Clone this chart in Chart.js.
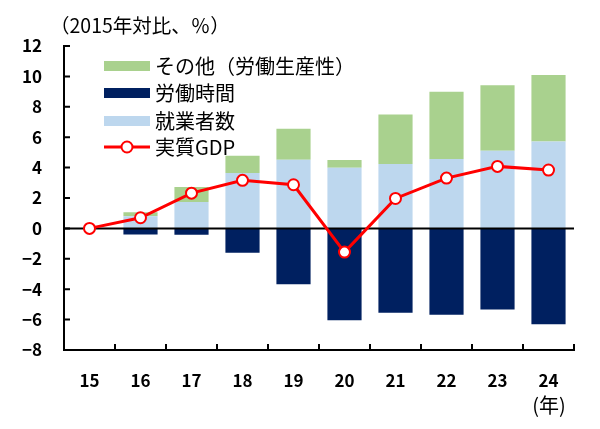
<!DOCTYPE html>
<html lang="ja">
<head>
<meta charset="utf-8">
<script src="https://cdn.jsdelivr.net/npm/chart.js@4"></script>
<style>
  html, body { margin: 0; padding: 0; background: #fff; }
  #wrap { width: 600px; height: 429px; position: relative; }
</style>
</head>
<body>
<div id="wrap"><canvas id="chart"></canvas></div>
<script>
// data (2015年対比、%)
const years = ['15', '16', '17', '18', '19', '20', '21', '22', '23', '24'];
const employed = [0, 0.80, 1.73, 3.64, 4.52, 3.99, 4.23, 4.56, 5.11, 5.72];
const other = [0, 0.27, 0.99, 1.14, 2.04, 0.51, 3.27, 4.43, 4.30, 4.37];
const hours = [0, -0.40, -0.42, -1.60, -3.68, -6.05, -5.55, -5.68, -5.33, -6.30];
const gdp = [0, 0.70, 2.32, 3.16, 2.87, -1.56, 1.97, 3.31, 4.08, 3.84];
const yTicks = [-8, -6, -4, -2, 0, 2, 4, 6, 8, 10, 12];

const FONT = "'Noto Sans CJK JP', 'Noto Sans', sans-serif";

// zero line goes under the GDP line but over the bars
const zeroLine = {
  id: 'zeroLine',
  beforeDatasetDraw(chart, args) {
    if (args.meta.type !== 'line') return;
    const { ctx, chartArea, scales } = chart;
    const y0 = scales.y.getPixelForValue(0);
    ctx.save();
    ctx.strokeStyle = '#000';
    ctx.lineWidth = 2;
    ctx.beginPath();
    ctx.moveTo(chartArea.left, y0);
    ctx.lineTo(chartArea.right, y0);
    ctx.stroke();
    ctx.restore();
  }
};

// inward tick marks on both axes
const innerTicks = {
  id: 'innerTicks',
  afterDraw(chart) {
    const { ctx, chartArea, scales } = chart;
    const x = scales.x, y = scales.y;
    ctx.save();
    ctx.strokeStyle = '#000';
    ctx.lineWidth = 2;
    ctx.beginPath();
    y.ticks.forEach(t => {
      const py = y.getPixelForValue(t.value);
      ctx.moveTo(chartArea.left, py);
      ctx.lineTo(chartArea.left + 6, py);
    });
    const catW = x.getPixelForValue(1) - x.getPixelForValue(0);
    for (let i = 0; i <= years.length; i++) {
      const px = x.getPixelForValue(0) - catW / 2 + i * catW;
      ctx.moveTo(px, chartArea.bottom);
      ctx.lineTo(px, chartArea.bottom - 6);
    }
    ctx.stroke();
    ctx.restore();
  }
};

// legend inside the plot + unit labels
const boxLegend = {
  id: 'boxLegend',
  afterDraw(chart) {
    const ctx = chart.ctx;
    const ds = chart.data.datasets;
    const rows = [ds[1], ds[2], ds[0], ds[3]];
    const rowY = [66, 93, 121, 147];
    ctx.save();
    ctx.textBaseline = 'middle';
    ctx.fillStyle = '#000';
    rows.forEach((d, i) => {
      const cy = rowY[i];
      if (d.type === 'line') {
        ctx.strokeStyle = d.borderColor;
        ctx.lineWidth = 3;
        ctx.beginPath();
        ctx.moveTo(104, cy);
        ctx.lineTo(150, cy);
        ctx.stroke();
        ctx.beginPath();
        ctx.arc(127, cy, 5.5, 0, Math.PI * 2);
        ctx.fillStyle = '#fff';
        ctx.fill();
        ctx.lineWidth = 2;
        ctx.stroke();
      } else {
        ctx.fillStyle = d.backgroundColor;
        ctx.fillRect(104, cy - 5, 46, 10);
      }
      ctx.fillStyle = '#000';
      ctx.font = '20px ' + FONT;
      ctx.textAlign = 'left';
      ctx.fillText(d.label, 155, cy);
    });
    ctx.font = '19.5px ' + FONT;
    ctx.fillText('（2015年対比、％）', 50, 26);
    ctx.textAlign = 'center';
    ctx.font = '20px ' + FONT;
    ctx.fillText('(年)', 549, 405);
    ctx.restore();
  }
};

new Chart(document.getElementById('chart'), {
  data: {
    labels: years,
    datasets: [
      { type: 'bar', label: '就業者数', data: employed, backgroundColor: '#BDD7EE', stack: 'bars', order: 1 },
      { type: 'bar', label: 'その他（労働生産性）', data: other, backgroundColor: '#A9D18E', stack: 'bars', order: 1 },
      { type: 'bar', label: '労働時間', data: hours, backgroundColor: '#002060', stack: 'bars', order: 1 },
      {
        type: 'line', label: '実質GDP', data: gdp, stack: 'gdp', order: 0,
        borderColor: '#FF0000', borderWidth: 3,
        pointRadius: 5.5, pointBackgroundColor: '#FFFFFF',
        pointBorderColor: '#FF0000', pointBorderWidth: 2, tension: 0
      }
    ]
  },
  options: {
    responsive: true,
    maintainAspectRatio: false,
    animation: false,
    layout: { padding: { top: 46, right: 26, bottom: 0, left: 0 } },
    datasets: { bar: { barPercentage: 0.67, categoryPercentage: 1 } },
    plugins: { legend: { display: false }, tooltip: { enabled: false } },
    scales: {
      x: {
        stacked: true,
        grid: { drawOnChartArea: false, drawTicks: false },
        border: { color: '#000', width: 2 },
        ticks: { color: '#000', padding: 20, font: { size: 17, family: FONT, weight: 'bold' } },
        afterFit: s => { s.height = 79; }
      },
      y: {
        stacked: true,
        min: -8, max: 12,
        afterBuildTicks: s => { s.ticks = yTicks.map(v => ({ value: v })); },
        grid: { drawOnChartArea: false, drawTicks: false },
        border: { color: '#000', width: 2 },
        ticks: {
          color: '#000', padding: 22,
          font: { size: 17, family: FONT, weight: 'bold' },
          callback: v => String(v).replace('-', '−')
        },
        afterFit: s => { s.width = 64; }
      }
    }
  },
  plugins: [zeroLine, innerTicks, boxLegend]
});
</script>
</body>
</html>
